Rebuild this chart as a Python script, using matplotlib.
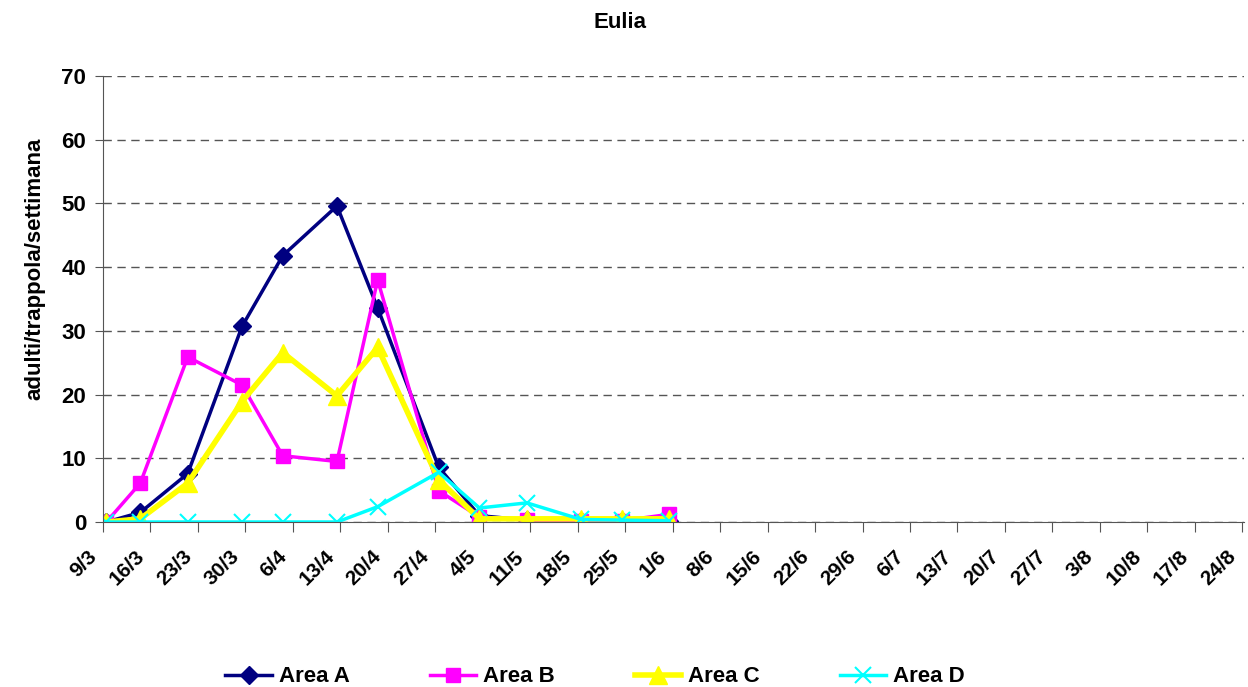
import matplotlib.pyplot as plt
import matplotlib.transforms as mtransforms
import pandas as pd

plt.rcParams["font.family"] = ["Liberation Sans", "DejaVu Sans"]
plt.rcParams["font.weight"] = "bold"

# sampling dates (day/month) and weekly axis ticks
dates = ["9/3", "14/3", "21/3", "29/3", "4/4", "12/4", "18/4",
         "27/4", "3/5", "10/5", "18/5", "24/5", "31/5"]
tick_start = "2009-03-09"
tick_end = "2009-08-24"

area_a = [0, 1.5, 7.6, 30.7, 41.8, 49.6, 33.6, 8.6, 1.0, 0.3, 0.2, 0.1, 0.2]
area_b = [0, 6.1, 25.9, 21.5, 10.4, 9.5, 38.0, 4.9, 0.8, 0.3, 0.2, 0.2, 1.2]
area_c = [0, 0.5, 6.1, 18.9, 26.6, 19.8, 27.4, 6.6, 0.5, 0.5, 0.5, 0.5, 0.5]
area_d = [0, 0, 0, 0, 0, 0, 2.4, 7.8, 2.2, 3.0, 0.4, 0.3, 0.2]

x = pd.to_datetime([d + "/2009" for d in dates], format="%d/%m/%Y") + pd.Timedelta(hours=12)
ticks = pd.date_range(tick_start, tick_end, freq="7D")

fig = plt.figure(figsize=(12.48, 6.87), dpi=100)
ax = fig.add_axes([103 / 1248, 1 - 522 / 687, (1244 - 103) / 1248, (522 - 76) / 687])

ax.plot(x, area_a, color="#000080", lw=2.5, marker="D", ms=9, label="Area A")
ax.plot(x, area_b, color="#FF00FF", lw=2.5, marker="s", ms=10, label="Area B")
ax.plot(x, area_c, color="#FFFF00", lw=4, marker="^", ms=13, label="Area C")
ax.plot(x, area_d, color="#00FFFF", lw=2.5, marker="x", ms=11, mew=1.5, label="Area D")

ax.set_xlim(ticks[0], ticks[-1] + pd.Timedelta(hours=6))
ax.set_ylim(0, 70)
ax.set_yticks(range(0, 71, 10))
ax.set_xticks(ticks)
ax.tick_params(axis="y", labelsize=16, length=6, color="#555555", pad=6)
ax.tick_params(axis="x", length=7, color="#555555", pad=11)
ax.set_xticklabels([f"{d.day}/{d.month}" for d in ticks], rotation=45,
                   ha="right", rotation_mode="anchor", fontsize=15)
# labels sit a bit left of their tick, as in the original
shift = mtransforms.ScaledTranslation(-16 / 100, 0, fig.dpi_scale_trans)
for lab in ax.get_xticklabels():
    lab.set_transform(lab.get_transform() + shift)
ax.grid(axis="y", linestyle=(0, (6, 4)), color="#555555", lw=1)
ax.set_axisbelow(True)

for s in ["top", "right"]:
    ax.spines[s].set_visible(False)
ax.spines["left"].set_color("#555555")
ax.spines["bottom"].set_color("#555555")

fig.text(35 / 1248, 1 - 269 / 687, "adulti/trappola/settimana", rotation=90,
         ha="center", va="center", fontsize=16, fontweight="bold")
fig.text(620 / 1248, 1 - 22 / 687, "Eulia", ha="center", va="center", fontsize=16, fontweight="bold")

fig.legend(loc="center", bbox_to_anchor=(595 / 1248, 1 - 677 / 687), ncol=4, frameon=False,
           fontsize=16, columnspacing=3.6, handlelength=2.1, handletextpad=0.3)

fig.savefig("out.png", dpi=100)
